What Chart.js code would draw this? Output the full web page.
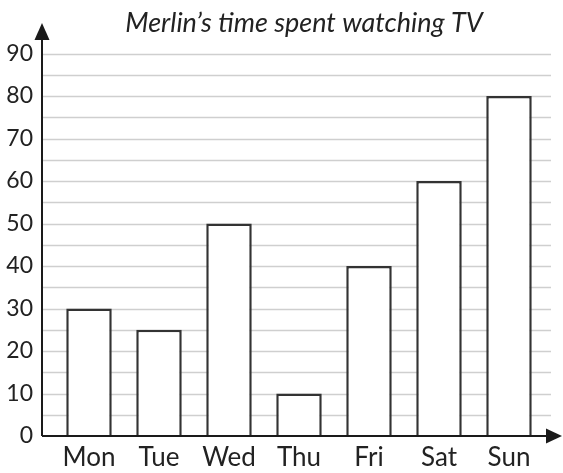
<!DOCTYPE html>
<html>
<head>
<meta charset="utf-8">
<script src="https://cdn.jsdelivr.net/npm/chart.js@4.4.1/dist/chart.umd.min.js"></script>
<style>
  body { margin: 0; background: #fff; }
  #wrap { width: 563px; height: 473px; }
</style>
</head>
<body>
<div id="wrap"><canvas id="tv"></canvas></div>
<script>
const days = ['Mon', 'Tue', 'Wed', 'Thu', 'Fri', 'Sat', 'Sun'];
const minutes = [30, 25, 50, 10, 40, 60, 80];
const yMax = 90;
const yStep = 10;
const gridStep = 5;
const chartTitle = 'Merlin\u2019s time spent watching TV';

// grid lines, title and axes with arrows, placed from the y scale
const axesArrows = {
    id: 'axesArrows',
    beforeDatasetsDraw(chart) {
        const ctx = chart.ctx;
        const y = chart.scales.y;
        const area = chart.chartArea;
        ctx.save();
        ctx.strokeStyle = '#cfcfcf';
        ctx.lineWidth = 1.5;
        for (let v = gridStep; v <= yMax; v += gridStep) {
            const py = Math.round(y.getPixelForValue(v)) + 0.5;
            ctx.beginPath();
            ctx.moveTo(area.left - 12, py);
            ctx.lineTo(area.right + 7, py);
            ctx.stroke();
        }
        ctx.restore();
    },
    afterDraw(chart) {
        const ctx = chart.ctx;
        const y = chart.scales.y;
        const area = chart.chartArea;
        const x0 = area.left - 12;
        const y0 = y.getPixelForValue(0);
        ctx.save();
        ctx.fillStyle = '#222';
        ctx.font = 'italic 27px Lato';
        ctx.textAlign = 'center';
        ctx.textBaseline = 'alphabetic';
        ctx.fillText(chartTitle, 304, 32);

        ctx.strokeStyle = '#1a1a1a';
        ctx.fillStyle = '#1a1a1a';
        ctx.lineWidth = 2;
        // y axis
        ctx.beginPath();
        ctx.moveTo(x0, y0);
        ctx.lineTo(x0, 36);
        ctx.stroke();
        ctx.beginPath();
        ctx.moveTo(x0, 23);
        ctx.lineTo(x0 - 7.5, 40);
        ctx.lineTo(x0 + 7.5, 40);
        ctx.closePath();
        ctx.fill();
        // x axis
        ctx.beginPath();
        ctx.moveTo(x0, y0);
        ctx.lineTo(550, y0);
        ctx.stroke();
        ctx.beginPath();
        ctx.moveTo(562, y0);
        ctx.lineTo(546, y0 - 7.5);
        ctx.lineTo(546, y0 + 7.5);
        ctx.closePath();
        ctx.fill();
        ctx.restore();
    }
};

new Chart(document.getElementById('tv'), {
    type: 'bar',
    data: {
        labels: days,
        datasets: [{
            data: minutes,
            backgroundColor: '#ffffff',
            borderColor: '#333333',
            borderWidth: 2.5,
            barPercentage: 0.65,
            categoryPercentage: 1
        }]
    },
    options: {
        responsive: true,
        maintainAspectRatio: false,
        animation: false,
        layout: { padding: { left: 0, right: 19, top: 53.5, bottom: 0 } },
        plugins: {
            legend: { display: false },
            tooltip: { enabled: false },
            title: { display: false }
        },
        scales: {
            x: {
                grid: { display: false, drawTicks: false },
                border: { display: false },
                ticks: {
                    color: '#222',
                    padding: 6,
                    font: { family: 'Lato', size: 26 }
                },
                afterFit(scale) { scale.height = 37; }
            },
            y: {
                min: 0,
                max: yMax,
                grid: { display: false, drawTicks: false },
                border: { display: false },
                ticks: {
                    stepSize: yStep,
                    color: '#222',
                    padding: 21,
                    font: { family: 'Lato', size: 23 }
                },
                afterFit(scale) { scale.width = 54; }
            }
        }
    },
    plugins: [axesArrows]
});
</script>
</body>
</html>
